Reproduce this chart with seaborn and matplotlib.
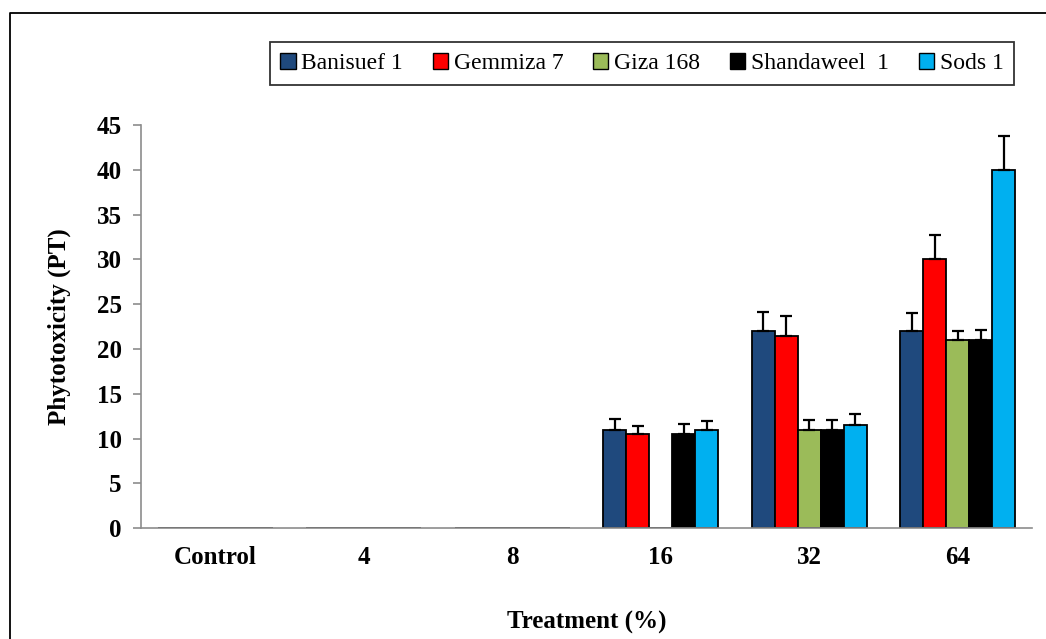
import matplotlib
matplotlib.use("Agg")
import matplotlib.pyplot as plt
import seaborn as sns
import pandas as pd
import numpy as np
from matplotlib.lines import Line2D
from matplotlib.patches import Patch

categories = ["Control", "4", "8", "16", "32", "64"]
cultivars = ["Banisuef 1", "Gemmiza 7", "Giza 168", "Shandaweel  1", "Sods 1"]
colors = ["#1F497D", "#FF0000", "#9BBB59", "#000000", "#00B0F0"]

banisuef = [0, 0, 0, 11.0, 22.0, 22.0]
gemmiza = [0, 0, 0, 10.5, 21.5, 30.0]
giza = [0, 0, 0, 0, 11.0, 21.0]
shandaweel = [0, 0, 0, 10.5, 11.0, 21.0]
sods = [0, 0, 0, 11.0, 11.5, 40.0]

banisuef_err = [0, 0, 0, 1.15, 2.1, 2.0]
gemmiza_err = [0, 0, 0, 0.9, 2.2, 2.7]
giza_err = [0, 0, 0, 0, 1.05, 1.0]
shandaweel_err = [0, 0, 0, 1.1, 1.1, 1.1]
sods_err = [0, 0, 0, 0.95, 1.2, 3.8]

values = [banisuef, gemmiza, giza, shandaweel, sods]
errors = [banisuef_err, gemmiza_err, giza_err, shandaweel_err, sods_err]

rows = []
for cv, vals in zip(cultivars, values):
    for cat, v in zip(categories, vals):
        rows.append({"Treatment": cat, "Cultivar": cv, "PT": v})
df = pd.DataFrame(rows)

sns.set_theme(style="white")
plt.rcParams["font.family"] = ["Liberation Serif", "DejaVu Serif"]
plt.rcParams["text.color"] = "black"
plt.rcParams["axes.labelcolor"] = "black"
plt.rcParams["xtick.labelcolor"] = "black"
plt.rcParams["ytick.labelcolor"] = "black"

fig = plt.figure(figsize=(10.46, 6.39), dpi=100)
ax = fig.add_axes([141/1046, 1 - 528.3/639, (1032 - 141)/1046, (528.3 - 125)/639])

sns.barplot(data=df, x="Treatment", y="PT", hue="Cultivar", order=categories,
            hue_order=cultivars, palette=colors, width=0.775, errorbar=None,
            edgecolor="black", linewidth=1.3, saturation=1, ax=ax, legend=False)

for cont, errs in zip(ax.containers, errors):
    xs = [b.get_x() + b.get_width()/2 for b in cont]
    hs = [b.get_height() for b in cont]
    xe = [x for x, e in zip(xs, errs) if e > 0]
    he = [h for h, e in zip(hs, errs) if e > 0]
    ee = [e for e in errs if e > 0]
    ax.errorbar(xe, he, yerr=[np.zeros(len(ee)), ee], fmt="none", ecolor="black",
                elinewidth=1.6, capsize=4, capthick=1.6, zorder=1)

ax.set_ylim(0, 45)
ax.set_xlim(-0.5, 5.5)
ax.set_yticks(range(0, 46, 5))
ax.set_yticklabels([str(v) for v in range(0, 46, 5)], fontsize=18, fontweight="bold", color="black")
ax.set_xticks(range(6))
ax.set_xticklabels(categories, fontsize=18, fontweight="bold", color="black")
ax.tick_params(axis="x", length=0, pad=13)
ax.set_xticks(np.arange(-0.5, 6.0, 1.0), minor=True)
ax.tick_params(axis="x", which="minor", length=7, color="#8C8C8C", width=1.2, direction="out")
ax.tick_params(axis="y", length=6, color="#8C8C8C", width=1.2, direction="out", pad=8, left=True)

for s in ["top", "right"]:
    ax.spines[s].set_visible(False)
for s in ["left", "bottom"]:
    ax.spines[s].set_color("#8C8C8C")
    ax.spines[s].set_linewidth(1.2)

ax.set_xlabel("Treatment (%)", fontsize=18, fontweight="bold", labelpad=30, color="black")
ax.set_ylabel("Phytotoxicity (PT)", fontsize=18, fontweight="bold", labelpad=18, color="black")

handles = [Patch(facecolor=c, edgecolor="black", linewidth=1.0) for c in colors]
leg = fig.legend(handles, cultivars, loc="center", ncol=5,
                 bbox_to_anchor=((268 + 1016) / 2 / 1046, 1 - 63.5/639),
                 fontsize=17, frameon=True, fancybox=False, edgecolor="black",
                 handlelength=0.65, handleheight=0.65, handletextpad=0.25,
                 columnspacing=1.25, borderpad=0.45)
leg.get_frame().set_linewidth(1.3)
for t in leg.get_texts():
    t.set_color("black")

fig.add_artist(Line2D([10/1046, 10/1046, 1.0], [0.0, 1 - 13/639, 1 - 13/639],
                      transform=fig.transFigure, color="black", linewidth=1.3))

fig.savefig("out.png", dpi=100)
